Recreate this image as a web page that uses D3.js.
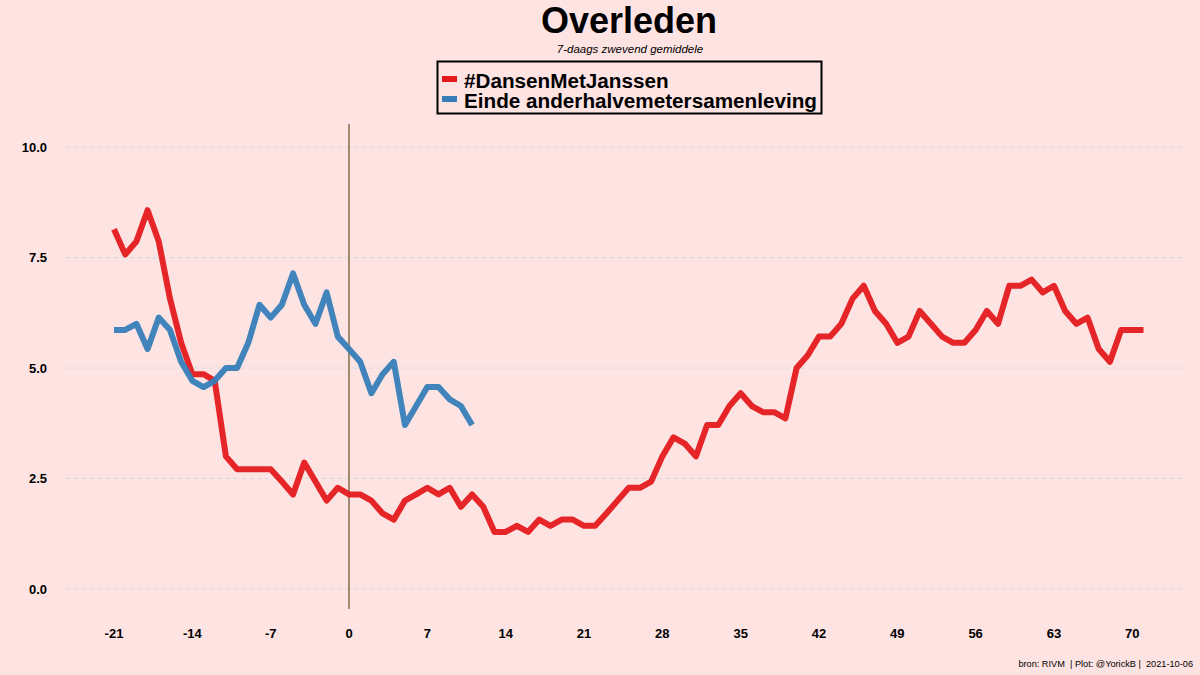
<!DOCTYPE html>
<html><head><meta charset="utf-8">
<script src="https://cdn.jsdelivr.net/npm/d3@7"></script>
<style>body{margin:0;background:#fee3e3;}svg{display:block;}</style>
</head><body>
<svg id="chart" width="1200" height="675"></svg>
<script>
const xTicks = [-21,-14,-7,0,7,14,21,28,35,42,49,56,63,70];
const yTicks = [0,2.5,5,7.5,10];
const redStartDay = -21;
const redValues = [8.14,7.57,7.86,8.57,7.86,6.57,5.57,4.86,4.86,4.71,3.0,2.71,2.71,2.71,2.71,2.43,2.14,2.86,2.43,2.0,2.29,
  2.14,2.14,2.0,1.71,1.57,2.0,2.14,2.29,2.14,2.29,1.86,2.14,1.86,1.29,1.29,1.43,1.29,1.57,1.43,1.57,1.57,1.43,1.43,1.71,2.0,2.29,2.29,2.43,
  3.0,3.43,3.29,3.0,3.71,3.71,4.14,4.43,4.14,4.0,4.0,3.86,5.0,5.29,5.71,5.71,6.0,6.57,6.86,6.29,6.0,5.57,5.71,6.29,6.0,5.71,5.57,5.57,
  5.86,6.29,6.0,6.86,6.86,7.0,6.71,6.86,6.29,6.0,6.14,5.43,5.14,5.86,5.86,5.86];
const blueStartDay = -21;
const blueValues = [5.86,5.86,6.0,5.43,6.14,5.86,5.14,4.71,4.57,4.71,5.0,5.0,5.57,6.43,6.14,6.43,7.14,6.43,6.0,6.71,5.71,
  5.43,5.14,4.43,4.86,5.14,3.71,4.14,4.57,4.57,4.29,4.14,3.71];
const seriesNames = ["#DansenMetJanssen","Einde anderhalvemetersamenleving"];
const seriesColors = ["#e41a1c","#377eb8"];

const svg = d3.select("#chart");
const W=1200,H=675;
svg.append("rect").attr("width",W).attr("height",H).attr("fill","#fee3e3");

const x = d3.scaleLinear().domain([0,70]).range([349,1132.3]);
const y = d3.scaleLinear().domain([0,10]).range([589,147]);
const yTop = y.invert(124), yBot = y.invert(609);

// gridlines
svg.append("g").selectAll("line").data(yTicks).join("line")
  .attr("x1",65).attr("x2",1182).attr("y1",d=>y(d)).attr("y2",d=>y(d))
  .attr("stroke","#cfdcdc").attr("stroke-width",1).attr("stroke-dasharray","4,4");

// y labels
svg.append("g").selectAll("text").data(yTicks).join("text")
  .attr("x",47).attr("y",d=>y(d)).attr("dy","0.36em").attr("text-anchor","end")
  .attr("font-family","Liberation Sans, Arial, sans-serif").attr("font-weight","bold").attr("font-size",13)
  .attr("fill","#000").text(d=>d3.format(".1f")(d));

// x labels
svg.append("g").selectAll("text").data(xTicks).join("text")
  .attr("x",d=>x(d)).attr("y",638).attr("text-anchor","middle")
  .attr("font-family","Liberation Sans, Arial, sans-serif").attr("font-weight","bold").attr("font-size",13)
  .attr("fill","#000").text(d=>d);

// vertical line at 0
svg.append("line").attr("x1",x(0)).attr("x2",x(0)).attr("y1",y(yTop)).attr("y2",y(yBot))
  .attr("stroke","#8b7355").attr("stroke-width",1.6);

const line = d3.line().x(d=>x(d[0])).y(d=>y(d[1]));
const redData = redValues.map((v,i)=>[redStartDay+i,v]);
const blueData = blueValues.map((v,i)=>[blueStartDay+i,v]);
svg.append("path").datum(redData).attr("d",line).attr("fill","none")
  .attr("stroke",seriesColors[0]).attr("stroke-width",6).attr("stroke-linejoin","round").attr("opacity",0.95);
svg.append("path").datum(blueData).attr("d",line).attr("fill","none")
  .attr("stroke",seriesColors[1]).attr("stroke-width",6).attr("stroke-linejoin","round").attr("opacity",0.95);

// title
svg.append("text").attr("x",629).attr("y",33).attr("text-anchor","middle")
  .attr("font-family","Liberation Sans, Arial, sans-serif").attr("font-weight","bold").attr("font-size",36)
  .text("Overleden");
svg.append("text").attr("x",630).attr("y",53).attr("text-anchor","middle")
  .attr("font-family","Liberation Sans, Arial, sans-serif").attr("font-style","italic").attr("font-size",11.5)
  .text("7-daags zwevend gemiddele");

// legend
const lg = svg.append("g");
lg.append("rect").attr("x",437.5).attr("y",61.5).attr("width",384).attr("height",52)
  .attr("fill","none").attr("stroke","#000").attr("stroke-width",2);
seriesNames.forEach((n,i)=>{
  lg.append("rect").attr("x",442).attr("y",76+i*20).attr("width",15).attr("height",6).attr("fill",seriesColors[i]);
  lg.append("text").attr("x",464).attr("y",87.5+i*20)
    .attr("font-family","Liberation Sans, Arial, sans-serif").attr("font-weight","bold").attr("font-size",20.7)
    .text(n);
});

// footer
svg.append("text").attr("x",1193).attr("y",667).attr("text-anchor","end")
  .attr("font-family","Liberation Sans, Arial, sans-serif").attr("font-size",9.2)
  .attr("xml:space","preserve").text("bron: RIVM  | Plot: @YorickB |  2021-10-06");
</script>
</body></html>
